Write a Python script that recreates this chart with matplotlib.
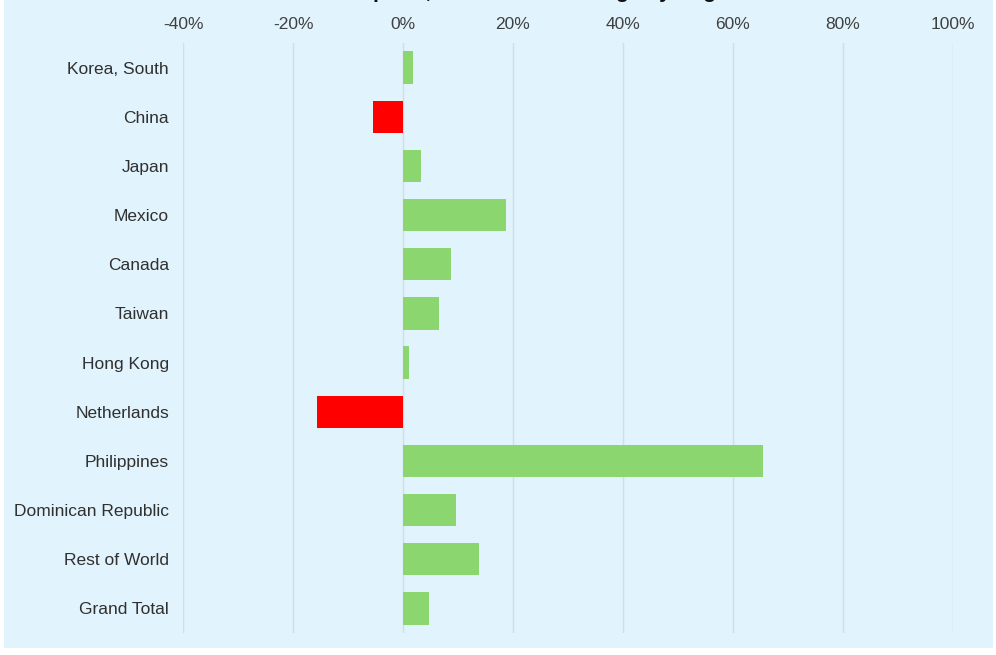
import matplotlib
matplotlib.use("Agg")
import matplotlib.pyplot as plt
from matplotlib.patches import Rectangle
from matplotlib.ticker import FuncFormatter

categories = ["Korea, South", "China", "Japan", "Mexico", "Canada", "Taiwan",
              "Hong Kong", "Netherlands", "Philippines", "Dominican Republic",
              "Rest of World", "Grand Total"]
values = [1.8, -5.5, 3.3, 18.7, 8.7, 6.5, 1.1, -15.6, 65.4, 9.6, 13.8, 4.8]
x_ticks = [-40, -20, 0, 20, 40, 60, 80, 100]
title = "U.S. Pork Exports, Year-to-date Change by Region"

BG = "#E1F3FC"
GREEN = "#8CD670"
RED = "#FF0000"

plt.rcParams["font.family"] = ["Liberation Sans", "DejaVu Sans"]

fig = plt.figure(figsize=(9.96, 6.55), dpi=100, facecolor="white")
fig.patches.append(Rectangle((4 / 996, 7 / 655), 989 / 996, 1 - 7 / 655,
                             transform=fig.transFigure, facecolor=BG,
                             edgecolor="none", zorder=-10))

ax = fig.add_axes([183 / 996, 1 - 633 / 655, 770 / 996, 590 / 655])
ax.set_facecolor("none")

colors = [GREEN if v >= 0 else RED for v in values]
ypos = list(range(len(categories)))
ax.barh(ypos, values, height=0.66, color=colors, zorder=3)

ax.set_xlim(-40, 100)
ax.set_ylim(len(categories) - 0.5, -0.5)
ax.set_yticks(ypos)
ax.set_yticklabels(categories, fontsize=12.5, color="#303030")
ax.set_xticks(x_ticks)
ax.xaxis.set_major_formatter(FuncFormatter(lambda v, p: f"{v:.0f}%"))
ax.xaxis.tick_top()
ax.tick_params(axis="x", labelsize=12.5, labelcolor="#404040", length=0, pad=8)
ax.tick_params(axis="y", length=0, pad=10)
ax.grid(axis="x", color="#D3DDE6", linewidth=1.0, zorder=0)
for s in ax.spines.values():
    s.set_visible(False)

fig.text(0.5, 1.012, title, ha="center", va="center", fontsize=15,
         fontweight="bold", color="#111111")

fig.savefig("out.png", dpi=100, facecolor=fig.get_facecolor())
